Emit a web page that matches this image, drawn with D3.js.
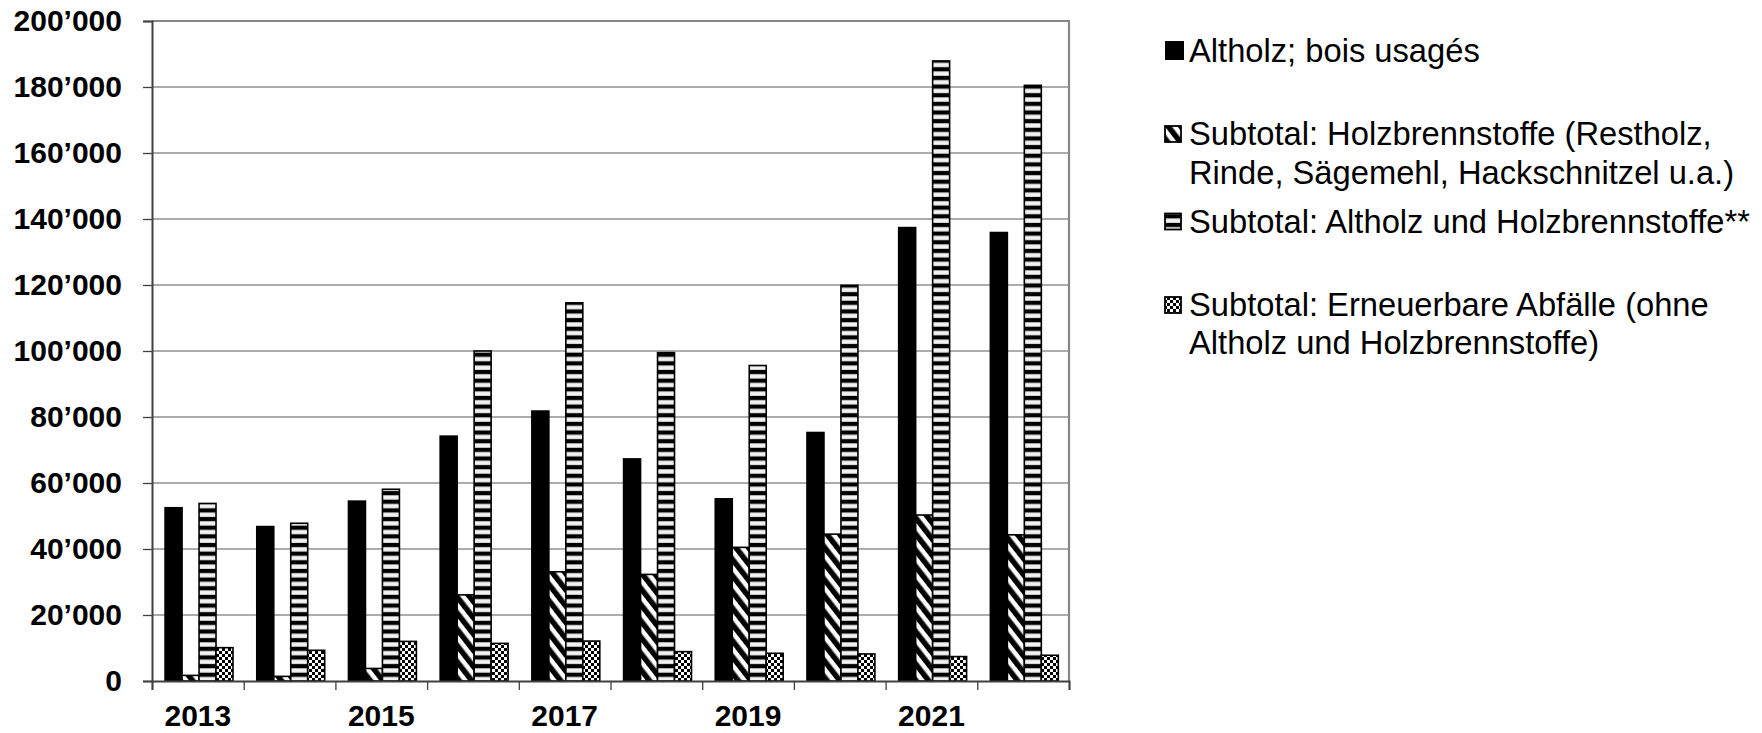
<!DOCTYPE html>
<html>
<head>
<meta charset="utf-8">
<script src="https://cdn.jsdelivr.net/npm/d3@7"></script>
<style>
  html, body { margin: 0; padding: 0; background: #fff; }
  svg { display: block; font-family: "Liberation Sans", Arial, sans-serif; }
</style>
</head>
<body>
<svg id="chart" width="1762" height="733"></svg>
<script>
// ---- data ----
const years = [2013, 2014, 2015, 2016, 2017, 2018, 2019, 2020, 2021, 2022];
const xTickLabels = ["2013", "", "2015", "", "2017", "", "2019", "", "2021", ""];
const altholz = [52500, 46800, 54500, 74200, 81800, 67300, 55200, 75300, 137400, 135900];
const holzbrennstoffe = [1700, 1400, 3800, 26100, 33100, 32300, 40500, 44500, 50300, 44300];
const subtotalAltholzHolz = [53800, 47800, 58100, 100000, 114600, 99500, 95600, 119900, 187900, 180500];
const erneuerbareAbfaelle = [10100, 9300, 12000, 11400, 12100, 8900, 8400, 8200, 7400, 7800];
const seriesKeys = ["altholz", "holz", "subtotal", "erneuerbar"];
const legendLabels = [
  ["Altholz; bois usagés"],
  ["Subtotal: Holzbrennstoffe (Restholz,", "Rinde, Sägemehl, Hackschnitzel u.a.)"],
  ["Subtotal: Altholz und Holzbrennstoffe**"],
  ["Subtotal: Erneuerbare Abfälle (ohne", "Altholz und Holzbrennstoffe)"]
];
const yTicks = [0, 20000, 40000, 60000, 80000, 100000, 120000, 140000, 160000, 180000, 200000];

const seriesValues = [altholz, holzbrennstoffe, subtotalAltholzHolz, erneuerbareAbfaelle];

// ---- layout ----
const svg = d3.select("#chart");
const plot = { left: 152, right: 1069, top: 21, bottom: 681 };

const x0 = d3.scaleBand().domain(years).range([plot.left, plot.right]).padding(0);
const x1 = d3.scaleBand().domain(seriesKeys).range([0, x0.bandwidth()])
  .paddingInner(0).paddingOuter(0.7).align(0.55);
const y = d3.scaleLinear().domain([0, 200000]).range([plot.bottom, plot.top]);
const xIdx = d3.scaleLinear().domain([0, years.length]).range([plot.left, plot.right]);

// ---- patterns ----
const defs = svg.append("defs");
const pDiag = defs.append("pattern").attr("id", "pDiag")
  .attr("patternUnits", "userSpaceOnUse").attr("width", 10).attr("height", 10)
  .attr("patternTransform", "rotate(-38)");
pDiag.append("rect").attr("width", 10).attr("height", 10).attr("fill", "#fff");
pDiag.append("rect").attr("width", 5.5).attr("height", 10).attr("fill", "#000");

const pHoriz = defs.append("pattern").attr("id", "pHoriz")
  .attr("patternUnits", "userSpaceOnUse").attr("width", 10).attr("height", 8.65);
pHoriz.append("rect").attr("width", 10).attr("height", 8.65).attr("fill", "#000");
pHoriz.append("rect").attr("y", 2.2).attr("width", 10).attr("height", 4.4).attr("fill", "#f2f2f2");

const pCheck = defs.append("pattern").attr("id", "pCheck")
  .attr("patternUnits", "userSpaceOnUse").attr("width", 6).attr("height", 6);
pCheck.append("rect").attr("width", 6).attr("height", 6).attr("fill", "#fff");
pCheck.append("rect").attr("width", 3).attr("height", 3).attr("fill", "#000");
pCheck.append("rect").attr("x", 3).attr("y", 3).attr("width", 3).attr("height", 3).attr("fill", "#000");

const fills = { altholz: "#000", holz: "url(#pDiag)", subtotal: "url(#pHoriz)", erneuerbar: "url(#pCheck)" };

// ---- gridlines ----
svg.append("g").selectAll("line").data(yTicks.filter(d => d > 0)).join("line")
  .attr("x1", plot.left).attr("x2", plot.right)
  .attr("y1", d => y(d)).attr("y2", d => y(d))
  .attr("stroke", "#5a5a5a").attr("stroke-width", 1.2);

// plot border (top/right)
svg.append("path")
  .attr("d", `M${plot.left},${plot.top}H${plot.right}V${plot.bottom}`)
  .attr("fill", "none").attr("stroke", "#868686").attr("stroke-width", 2.2);

// ---- bars ----
const gBars = svg.append("g");
years.forEach((yr, i) => {
  seriesKeys.forEach((k, s) => {
    const v = seriesValues[s][i];
    gBars.append("rect")
      .attr("x", x0(yr) + x1(k))
      .attr("y", y(v))
      .attr("width", x1.bandwidth())
      .attr("height", y(0) - y(v))
      .attr("fill", fills[k])
      .attr("stroke", "#000")
      .attr("stroke-width", 1.6);
  });
});

// ---- axes ----
const fmt = v => d3.format(",")(v).replace(/,/g, "\u2019");
const yAxis = svg.append("g").attr("transform", `translate(${plot.left},0)`)
  .call(d3.axisLeft(y).tickValues(yTicks).tickSize(9).tickPadding(21).tickFormat(fmt));
yAxis.select(".domain").attr("stroke", "#404040").attr("stroke-width", 2);
yAxis.selectAll(".tick line").attr("stroke", "#404040").attr("stroke-width", 1.3);
yAxis.selectAll("text").attr("font-size", 30).attr("font-weight", "bold")
  .attr("fill", "#000").attr("font-family", "Liberation Sans, Arial, sans-serif");

const xTicksAxis = svg.append("g").attr("transform", `translate(0,${plot.bottom})`)
  .call(d3.axisBottom(xIdx).tickValues(d3.range(0, years.length + 1)).tickSize(9).tickFormat(""));
xTicksAxis.select(".domain").attr("stroke", "#404040").attr("stroke-width", 2);
xTicksAxis.selectAll(".tick line").attr("stroke", "#404040").attr("stroke-width", 1.3);

const xLabAxis = svg.append("g").attr("transform", `translate(0,${plot.bottom})`)
  .call(d3.axisBottom(x0).tickSize(0).tickPadding(24).tickFormat((d, i) => xTickLabels[i]));
xLabAxis.select(".domain").remove();
xLabAxis.selectAll("text").attr("font-size", 30).attr("font-weight", "bold")
  .attr("fill", "#000").attr("font-family", "Liberation Sans, Arial, sans-serif");

// ---- legend ----
const legendBaselines = [[61.5], [145, 183.5], [232.5], [316, 354]];
const lg = svg.append("g");
seriesKeys.forEach((k, s) => {
  const b = legendBaselines[s][0];
  const size = s === 0 ? 19 : 16;
  lg.append("rect")
    .attr("x", 1165).attr("y", b - 11 - size / 2)
    .attr("width", size).attr("height", size)
    .attr("fill", fills[k]).attr("stroke", "#000").attr("stroke-width", s === 0 ? 0 : 1.8);
  legendLabels[s].forEach((line, j) => {
    lg.append("text")
      .attr("x", 1189).attr("y", legendBaselines[s][j])
      .attr("font-size", 32.7).attr("fill", "#000")
      .text(line);
  });
});
</script>
</body>
</html>
